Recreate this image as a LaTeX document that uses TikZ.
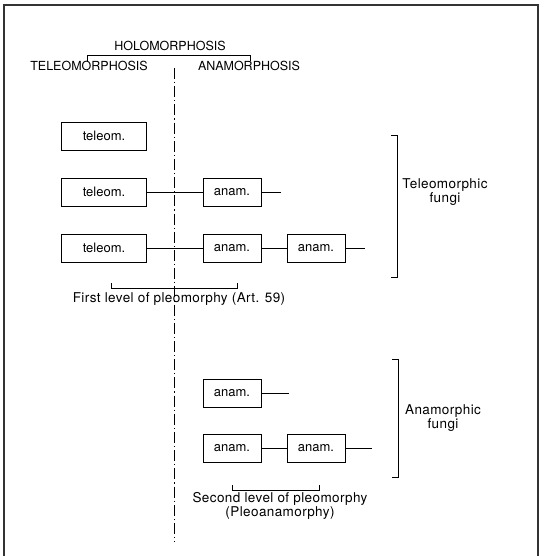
\documentclass[tikz,border=0pt]{standalone}
\usepackage{fontspec}
\setmainfont{TeX Gyre Heros}
\newfontfamily\capfont[LetterSpace=3]{TeX Gyre Heros}
\usetikzlibrary{positioning}
\tikzstyle{teleobox} = [rectangle, minimum width=85pt, minimum height=28pt, inner sep=0pt, text centered, draw=black, font=\fontsize{13pt}{15pt}\selectfont]
\tikzstyle{anambox} = [rectangle, minimum width=58pt, minimum height=28pt, inner sep=0pt, text centered, draw=black, font=\fontsize{13pt}{15pt}\selectfont]
\tikzstyle{link} = [line width=0.9pt]

\begin{document}
\begin{tikzpicture}[
            x=1pt, y=1pt,
            node distance=56pt,
            every node/.style={font=\fontsize{12.5pt}{14.5pt}\selectfont},
            label/.style={inner sep=0pt, align=center},
            caption/.style={inner sep=0pt, align=center, font=\capfont\fontsize{13.5pt}{14.5pt}\selectfont}
        ]
            \useasboundingbox (0,0) rectangle (543,-556);
            % Frame (open at the bottom)
            \draw [line width=1.3pt, black!80] (4,-556) -- (4,-5) -- (538,-5) -- (538,-556);

            % Headings
            \node (holo) [label] at (170,-46) {HOLOMORPHOSIS};
            \node (teleo) [label] at (89,-66) {TELEOMORPHOSIS};
            \node (anamo) [label] at (249,-66) {ANAMORPHOSIS};
            \draw [link] (87,-61) -- (87,-55) -- (250,-55) -- (250,-61);

            % Dividing line
            \draw [line width=0.9pt, dash pattern=on 11pt off 3pt on 1.2pt off 3pt] (174,-68) -- (174,-542);

            % Teleomorphic fungi
            \node (t1) [teleobox] at (104,-136) {teleom.};
            \node (t2) [teleobox, below of=t1] {teleom.};
            \node (t3) [teleobox, below of=t2] {teleom.};
            \node (a2) [anambox, right of=t2, xshift=72pt] {anam.};
            \node (a3) [anambox, right of=t3, xshift=72pt] {anam.};
            \node (a3b) [anambox, right of=a3, xshift=28pt] {anam.};
            \coordinate (e2) at (281,-192);
            \coordinate (e3) at (365,-248);

            \draw [link] (t2) -- (a2);
            \draw [link] (a2) -- (e2);
            \draw [link] (t3) -- (a3);
            \draw [link] (a3) -- (a3b);
            \draw [link] (a3b) -- (e3);

            \draw [link] (111,-283) -- (111,-288) -- (237,-288) -- (237,-283);
            \node (first) [caption] at (179,-299) {First level of pleomorphy (Art. 59)};

            \draw [link] (391,-135) -- (397,-135) -- (397,-277) -- (391,-277);
            \node (telfungi) [caption] at (445,-192) {Teleomorphic\\fungi};

            % Anamorphic fungi
            \node (a4) [anambox] at (232,-393) {anam.};
            \node (a5) [anambox, below of=a4, yshift=1pt] {anam.};
            \node (a5b) [anambox, right of=a5, xshift=28pt] {anam.};
            \coordinate (e4) at (289,-393);
            \coordinate (e5) at (372,-448);

            \draw [link] (a4) -- (e4);
            \draw [link] (a5) -- (a5b);
            \draw [link] (a5b) -- (e5);

            \draw [link] (232,-485) -- (232,-490) -- (319,-490) -- (319,-485);
            \node (second) [caption] at (280,-506) {Second level of pleomorphy\\(Pleoanamorphy)};

            \draw [link] (392,-359) -- (398,-359) -- (398,-477) -- (392,-477);
            \node (anafungi) [caption] at (443,-418) {Anamorphic\\fungi};
        \end{tikzpicture}
\end{document}
